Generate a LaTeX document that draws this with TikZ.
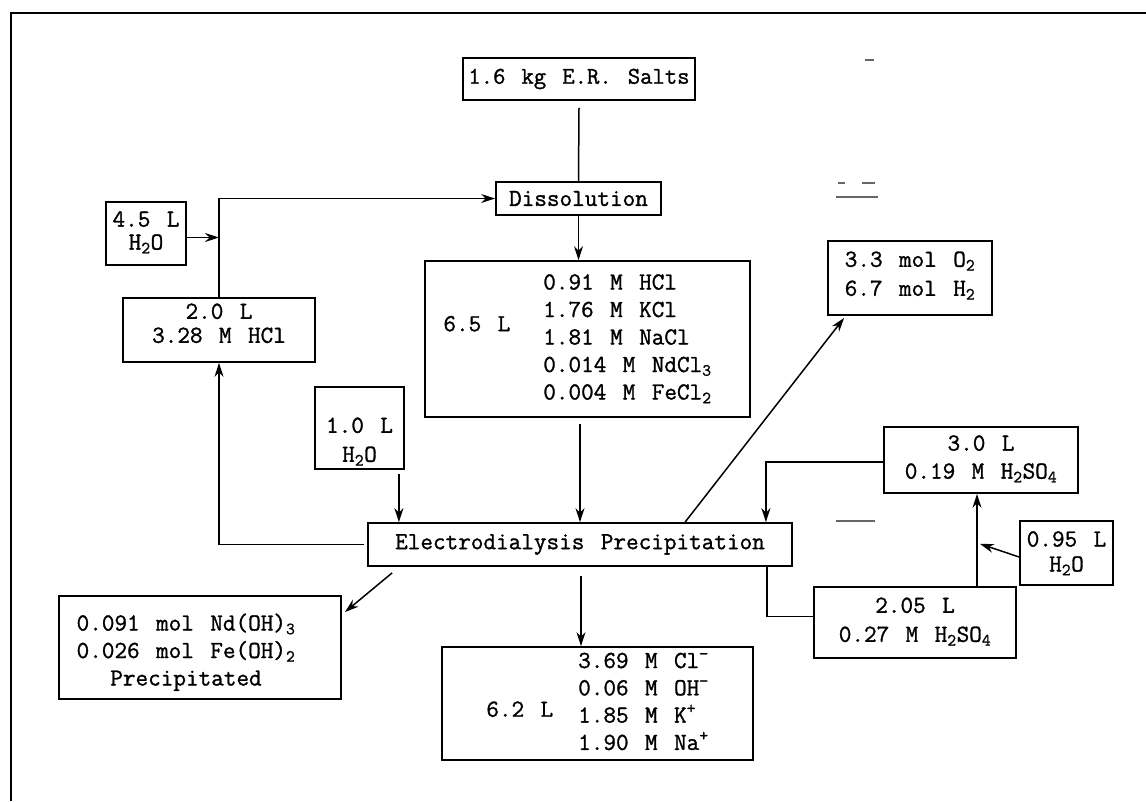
\documentclass[tikz,border=0pt]{standalone}
\usepackage{fontspec}
\newfontfamily\plot{Latin Modern Mono}[FakeBold=1.2, WordSpace=1.3]
\usetikzlibrary{arrows.meta,calc}
\newcommand{\tc}[1]{\begin{tabular}{@{}c@{}}#1\end{tabular}}
\newcommand{\tl}[1]{\begin{tabular}{@{}l@{}}#1\end{tabular}}
\newcommand{\rs}[2]{\raisebox{#1}[\height][\depth]{#2}}
\newcommand{\sbs}[1]{\textsubscript{#1}}
\begin{document}
\begin{tikzpicture}[x=1pt,y=-1pt,
  box/.style={draw, line width=1.8pt, inner sep=0pt, font=\plot\fontsize{24.5}{28}\selectfont},
  conn/.style={line width=1.5pt},
  arr/.style={conn, -{Stealth[length=14pt,width=9pt]}},
  speck/.style={line width=1.2pt, black!60}]
\useasboundingbox (0,0) rectangle (1146,801);
\draw[line width=2pt] (11,801) -- (11,13) -- (1146,13);

\node[box, minimum width=232pt, minimum height=42pt, font=\plot\fontsize{24}{28}\selectfont] (salts) at (579,79) {1.6 kg E.R. Salts};
\node[box, minimum width=165pt, minimum height=33pt] (diss) at (578.5,198.5) {Dissolution};
\node[box, minimum width=80pt, minimum height=63pt, font=\plot\fontsize{24.5}{23}\selectfont] (wA) at (146,233.5) {\tc{4.5 L\\H\sbs{2}O}};
\node[box, minimum width=192pt, minimum height=64pt, font=\plot\fontsize{24.5}{24}\selectfont] (hcl) at (219,330) {\rs{4pt}{\tc{2.0 L\\3.28 M HCl}}};
\node[box, minimum width=325pt, minimum height=156pt, font=\plot\fontsize{24.5}{27.5}\selectfont] (mix) at (587.5,339) {\hspace*{-20pt}\rs{14pt}{6.5 L}\hspace{33pt}\tl{0.91 M HCl\\1.76 M KCl\\1.81 M NaCl\\0.014 M NdCl\sbs{3}\\0.004 M FeCl\sbs{2}}};
\node[box, minimum width=164pt, minimum height=74pt, font=\plot\fontsize{24.5}{29}\selectfont] (gas) at (910,278) {\rs{2.5pt}{\tl{3.3 mol O\sbs{2}\\6.7 mol H\sbs{2}}}};
\node[box, minimum width=89pt, minimum height=82pt, font=\plot\fontsize{24.5}{29}\selectfont] (wB) at (359.5,428) {\rs{-13.5pt}{\tc{1.0 L\\H\sbs{2}O}}};
\node[box, minimum width=424pt, minimum height=43pt] (ed) at (580,544.5) {Electrodialysis Precipitation};
\node[box, minimum width=194pt, minimum height=66pt] (acid3) at (981,460) {\rs{1pt}{\tc{3.0 L\\0.19 M H\sbs{2}SO\sbs{4}}}};
\node[box, minimum width=93pt, minimum height=64pt, font=\plot\fontsize{24.5}{25}\selectfont] (wC) at (1066.5,553) {\rs{-1pt}{\tc{0.95 L\\H\sbs{2}O}}};
\node[box, minimum width=202pt, minimum height=71pt, font=\plot\fontsize{24.5}{29}\selectfont] (acid2) at (915,622.5) {\rs{1pt}{\tc{2.05 L\\0.27 M H\sbs{2}SO\sbs{4}}}};
\node[box, minimum width=282pt, minimum height=103pt, font=\plot\fontsize{24.5}{27.5}\selectfont] (ppt) at (200,647.5) {\hspace*{-28pt}\rs{-5pt}{\tl{0.091 mol Nd(OH)\sbs{3}\\0.026 mol Fe(OH)\sbs{2}\\\multicolumn{1}{@{}c@{}}{Precipitated}}}};
\node[box, minimum width=311pt, minimum height=113pt, font=\plot\fontsize{24.5}{27.3}\selectfont] (out) at (597.5,703.5) {\rs{-7pt}{6.2 L}\hspace{25pt}\tl{3.69 M Cl\textsuperscript{−}\\0.06 M OH\textsuperscript{−}\\1.85 M K\textsuperscript{+}\\1.90 M Na\textsuperscript{+}}};

% connectors
\draw[conn] ($(salts.south)+(0,7)$) -- (diss.north);
\draw[arr] (diss.south) -- (diss.south |- mix.north);
\draw[arr] ($(ed.north |- mix.south)+(0,6)$) -- (ed.north);
\draw[arr] ($(ed.south)+(1,9)$) -- ($(ed.south |- out.north)+(1,0)$);
\draw[arr] ($(ed.west)+(-3,0)$) -| (hcl.south);
\draw[arr] (hcl.north) |- (diss.west);
\coordinate (jA) at ($(wA.east)+(0,4)$);
\draw[arr] (jA) -- (jA -| hcl.north);
\coordinate (wBo) at ($(wB.south east)+(-6,4)$);
\draw[arr] (wBo) -- (wBo |- ed.north);
\draw[arr] ($(ed.north west)+(318,0)$) -- ($(gas.south west)+(17,2)$);
\draw[arr] ($(ed.south west)+(25,6)$) -- ($(ppt.north east)+(3,17)$);
\draw[arr] ($(acid3.west)+(0,2)$) -| ($(ed.north east)+(-27,0)$);
\draw[conn] ($(ed.south east)+(-26,0)$) |- ($(acid2.west)+(0,-6)$);
\coordinate (up) at ($(acid3.south)+(-4,0)$);
\draw[arr] (up |- acid2.north) -- (up);
\draw[arr] ($(wC.west)+(0,4)$) -- ($(acid3.south)+(-1,50)$);

% scan specks
\draw[speck] (865,60) -- (874,60);
\draw[speck] (838,183) -- (845,183) (862,183) -- (875,183);
\draw[speck] (836,197) -- (878,197);
\draw[speck] (836,521) -- (875,521);
\end{tikzpicture}
\end{document}
